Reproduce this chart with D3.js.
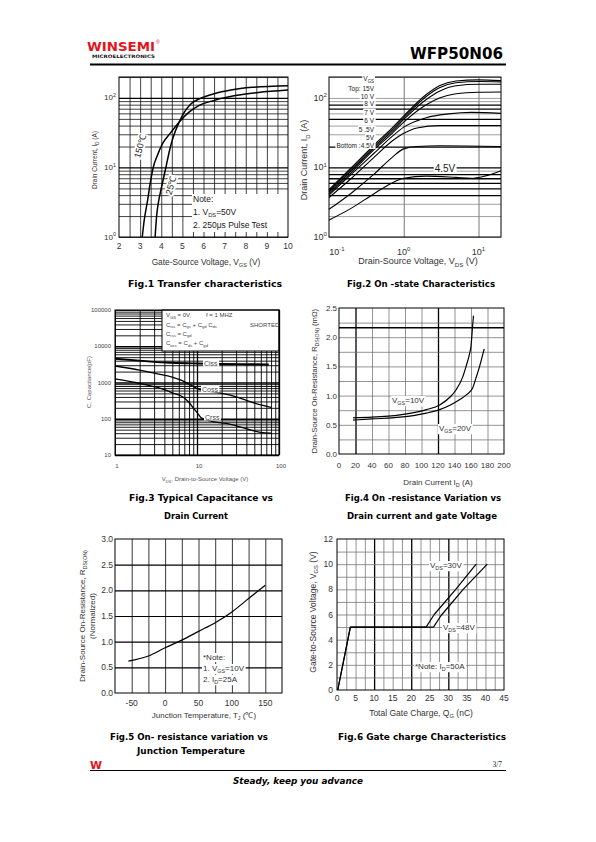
<!DOCTYPE html>
<html>
<head>
<meta charset="utf-8">
<script src="https://cdn.jsdelivr.net/npm/d3@7/dist/d3.min.js"></script>
<style>
html,body{margin:0;padding:0;background:#fff;}
svg{display:block;}
</style>
</head>
<body>
<script>
// ================= DATA =================
// Fig.1 Transfer characteristics : [VGS (V), ID (A)]
const fig1XTicks = [2, 3, 4, 5, 6, 7, 8, 9, 10];
const fig1YTicks = [1, 10, 100];
const fig1CurveLabels = ["150℃", "25℃"];
const fig1T150 = [[3.1,1],[3.2,1.8],[3.35,3.3],[3.48,6],[3.62,10],[3.82,15],[4.06,22],[4.46,32],[4.85,45],[5.3,62],[5.8,78],[6.5,92],[7.5,108],[8.6,120],[10,130]];
const fig1T25 = [[3.71,1],[3.78,2],[3.87,3.2],[4.0,5],[4.22,10],[4.4,18],[4.56,27],[4.85,45],[5.1,63],[5.4,82],[5.9,100],[6.5,115],[7.3,130],[8.3,142],[10,150]];
const fig1Note = ["Note:", "1. V_{DS}=50V", "2. 250μs Pulse Test"];

// Fig.2 On-state characteristics : [VDS (V), ID (A)]
const fig2XTicks = [0.1, 1, 10];
const fig2YTicks = [1, 10, 100];
const fig2Legend = ["Top:   15V", "10 V", "8 V", "7 V", "6 V", "5 .5V", "5V", "Bottom :4.5V"];
const fig2Vgs15 = [[0.1,4.8],[0.2,10],[0.4,21],[0.7,37],[1,55],[2,112],[3,150],[5,175],[10,182],[20,178]];
const fig2Vgs10 = [[0.1,4.6],[0.2,9.5],[0.4,20],[0.7,35],[1,52],[2,105],[3,140],[5,165],[10,172],[20,170]];
const fig2Vgs8  = [[0.1,4.4],[0.2,9],[0.4,19],[0.7,33],[1,49],[2,95],[3,125],[5,150],[10,157],[20,157]];
const fig2Vgs7  = [[0.1,4.2],[0.2,8.5],[0.4,18],[0.7,31],[1,45],[2,80],[3,100],[5,115],[10,121],[20,122]];
const fig2Vgs6  = [[0.1,4.0],[0.2,8],[0.4,16],[0.7,28],[1,38],[2,52],[4,59],[8,62],[20,60]];
const fig2Vgs55 = [[0.1,3.7],[0.2,7],[0.4,14],[0.7,24],[1,31],[1.5,37],[3,40],[20,40]];
const fig2Vgs5  = [[0.1,2.5],[0.2,4.3],[0.4,8],[0.7,14],[1,18.5],[1.5,20],[3,20.5],[20,20]];
const fig2Vgs45 = [[0.1,1.75],[0.2,2.6],[0.4,4.2],[0.7,6],[1,7],[2,7.5],[5,7.2],[8,7],[12,7.5],[20,9]];
const fig2CurveLabel = "4.5V";

// Fig.3 Capacitance : [VDS (V), C (pF)]
const fig3XTicks = [1, 10, 100];
const fig3YTicks = [10, 100, 1000, 10000, 100000];
const fig3Ciss = [[1,4500],[2,4000],[3,3700],[5,3500],[10,3350],[20,3250],[40,3200],[75,3150]];
const fig3Coss = [[1,2850],[2,2200],[3.2,1750],[5,1400],[6.5,1150],[8,900],[10.4,660],[15,560],[21,490],[30,400],[40,320],[60,240],[80,205]];
const fig3Crss = [[1,1260],[2,950],[3.2,740],[5,520],[6.8,390],[8,280],[9,200],[10,150],[11.4,104],[15,85],[25,71],[35,58],[48,47],[60,42],[80,40]];
const fig3CurveLabels = ["Ciss", "Coss", "Crss"];

// Fig.4 On-resistance vs drain current : [ID (A), RDS(on) (mΩ)]
const fig4XTicks = [0, 20, 40, 60, 80, 100, 120, 140, 160, 180, 200];
const fig4YTicks = [0, 0.5, 1.0, 1.5, 2.0, 2.5];
const fig4Vgs10 = [[17,0.62],[40,0.63],[74,0.67],[106,0.76],[122,0.84],[135,0.98],[142,1.1],[150,1.32],[154,1.5],[158,1.7],[160,1.85],[162,2.2],[163,2.37]];
const fig4Vgs20 = [[17,0.58],[40,0.6],[74,0.63],[106,0.7],[122,0.76],[135,0.84],[146,0.93],[155,1.02],[162,1.13],[166,1.3],[170,1.48],[176,1.8]];
const fig4CurveLabels = ["V_{GS}=10V", "V_{GS}=20V"];

// Fig.5 Normalized on-resistance vs TJ : [TJ (℃), RDS(on) norm.]
const fig5XTicks = [-50, 0, 50, 100, 150];
const fig5YTicks = [0, 0.5, 1.0, 1.5, 2.0, 2.5, 3.0];
const fig5Rds = [[-55,0.62],[-25,0.72],[0,0.88],[25,1.03],[50,1.2],[75,1.37],[100,1.58],[125,1.84],[150,2.1]];
const fig5Note = ["*Note:", "1. V_{GS}=10V", "2. I_{D}=25A"];

// Fig.6 Gate charge : [QG (nC), VGS (V)]
const fig6XTicks = [0, 5, 10, 15, 20, 25, 30, 35, 40, 45];
const fig6YTicks = [0, 2, 4, 6, 8, 10, 12];
const fig6Vds30 = [[0.2,0],[3.6,5],[24,5],[26.2,6],[32,8],[37.5,10]];
const fig6Vds48 = [[0.2,0],[3.6,5],[26,5],[28,5.9],[34,8],[40.5,10]];
const fig6Labels = ["V_{DS}=30V", "V_{DS}=48V", "*Note: I_{D}=50A"];

// ================= DRAWING =================
const SANS = "'Liberation Sans', Arial, sans-serif";
const BOLD = "'DejaVu Sans', 'Liberation Sans', sans-serif";
const svg = d3.select("body").append("svg").attr("width", 596).attr("height", 842)
  .style("font-family", SANS);
svg.append("rect").attr("width", 596).attr("height", 842).attr("fill", "#fff");

function rich(t, str, fs) {
  const parts = str.split(/(_\{[^}]*\}|\^\{[^}]*\})/).filter(s => s.length);
  let cur = 0;
  parts.forEach(p => {
    let kind = "", s = p;
    if (p.startsWith("_{")) { kind = "sub"; s = p.slice(2, -1); }
    else if (p.startsWith("^{")) { kind = "sup"; s = p.slice(2, -1); }
    const off = kind === "sub" ? fs * 0.28 : kind === "sup" ? -fs * 0.42 : 0;
    const ts = t.append("tspan").text(s);
    if (off - cur !== 0) ts.attr("dy", off - cur);
    if (kind) ts.attr("font-size", fs * 0.68);
    cur = off;
  });
  return t;
}
function label(g, x, y, str, fs, o = {}) {
  const t = g.append("text").attr("x", x).attr("y", y).attr("font-size", fs)
    .attr("fill", o.fill || "#1a1a1a");
  if (o.anchor) t.attr("text-anchor", o.anchor);
  if (o.family) t.style("font-family", o.family);
  if (o.weight) t.attr("font-weight", o.weight);
  if (o.italic) t.attr("font-style", "italic");
  const tr = o.rotate ? `rotate(${o.rotate},${x},${y})` : null;
  if (tr) t.attr("transform", tr);
  rich(t, str, fs);
  if (o.len) t.attr("textLength", o.len).attr("lengthAdjust", "spacingAndGlyphs");
  if (o.bg) {
    const b = t.node().getBBox();
    const r = g.insert("rect", () => t.node()).attr("x", b.x - 1).attr("y", b.y)
      .attr("width", b.width + 2).attr("height", b.height).attr("fill", "#fff");
    if (tr) r.attr("transform", tr);
  }
  return t;
}
function logMinor(lo, hi) {
  const out = [];
  for (let e = Math.floor(Math.log10(lo)); e <= Math.ceil(Math.log10(hi)); e++)
    for (let m = 1; m < 10; m++) {
      const v = +(m * Math.pow(10, e)).toPrecision(6);
      if (v >= lo * 0.999 && v <= hi * 1.001) out.push(v);
    }
  return out;
}
function grid(g, x, y, xVals, yVals, style) {
  const [yb, yt] = y.range(), [xl, xr] = x.range();
  const gv = g.append("g").attr("transform", `translate(0,${yb})`)
    .call(d3.axisBottom(x).tickValues(xVals).tickSize(-(yb - yt)).tickFormat(""));
  gv.select(".domain").remove();
  gv.selectAll(".tick line").each(function (d) {
    const [c, w] = style("x", d); d3.select(this).attr("stroke", c).attr("stroke-width", w);
  });
  const gh = g.append("g").attr("transform", `translate(${xl},0)`)
    .call(d3.axisLeft(y).tickValues(yVals).tickSize(-(xr - xl)).tickFormat(""));
  gh.select(".domain").remove();
  gh.selectAll(".tick line").each(function (d) {
    const [c, w] = style("y", d); d3.select(this).attr("stroke", c).attr("stroke-width", w);
  });
}
function frame(g, x, y, w = 1) {
  const [yb, yt] = y.range(), [xl, xr] = x.range();
  g.append("rect").attr("x", xl).attr("y", yt).attr("width", xr - xl).attr("height", yb - yt)
    .attr("fill", "none").attr("stroke", "#000").attr("stroke-width", w);
}
function curve(g, x, y, data, w = 1.4, c = d3.curveMonotoneX) {
  g.append("path").datum(data).attr("fill", "none").attr("stroke", "#000")
    .attr("stroke-width", w).attr("stroke-linejoin", "round")
    .attr("d", d3.line().x(d => x(d[0])).y(d => y(d[1])).curve(c));
}
const expLabel = v => "10^{" + Math.round(Math.log10(v)) + "}";

// ---------- Header ----------
label(svg, 87, 50.5, "WINSEMI", 12.5, { family: BOLD, weight: "bold", fill: "#e3141c", len: 68 });
label(svg, 156, 44, "®", 5, { fill: "#e3141c" });
label(svg, 92, 57.8, "MICROELECTRONICS", 4.6, { family: BOLD, weight: "bold", fill: "#111", len: 63 });
label(svg, 410, 58.5, "WFP50N06", 16, { family: BOLD, weight: "bold", fill: "#000", len: 93 });
svg.append("line").attr("x1", 90).attr("x2", 506).attr("y1", 64.5).attr("y2", 64.5)
  .attr("stroke", "#000").attr("stroke-width", 2);

// ---------- Fig.1 ----------
{
  const g = svg.append("g");
  const x = d3.scaleLinear().domain([2, 10]).range([119, 288]);
  const y = d3.scaleLog().domain([1, 200]).range([237, 77]);
  grid(g, x, y, d3.range(2.5, 10, 0.5), logMinor(1, 200),
    (a, d) => a === "y" && [10, 100].includes(d) ? ["#000", 1.3] : ["#111", 0.8]);
  g.append("rect").attr("x", 192).attr("y", 194).attr("width", 96).attr("height", 38).attr("fill", "#fff");
  curve(g, x, y, fig1T150, 1.5);
  curve(g, x, y, fig1T25, 1.5);
  frame(g, x, y);
  label(g, 143, 147, fig1CurveLabels[0], 9, { rotate: -75, anchor: "middle", bg: true });
  label(g, 174, 186, fig1CurveLabels[1], 9, { rotate: -75, anchor: "middle", bg: true });
  fig1Note.forEach((s, i) => label(g, 193, 202 + i * 13, s, 8.5));
  fig1XTicks.forEach(d => label(g, x(d), 248.5, String(d), 8.5, { anchor: "middle", fill: "#333" }));
  fig1YTicks.forEach(d => label(g, 116, y(d) + 2.5, expLabel(d), 8, { anchor: "end", fill: "#333" }));
  label(g, 206, 265, "Gate-Source Voltage, V_{GS} (V)", 8.3, { anchor: "middle", fill: "#333" });
  label(g, 97, 160, "Drain Current, I_{D} (A)", 6.5, { anchor: "middle", rotate: -90, fill: "#333" });
}

// ---------- Fig.2 ----------
{
  const g = svg.append("g");
  const x = d3.scaleLog().domain([0.1, 20]).range([329, 501]);
  const y = d3.scaleLog().domain([1, 200]).range([237, 77]);
  const thickY = [4, 5, 6, 7, 8, 10, 20, 50, 70, 80];
  grid(g, x, y, [1, 10], logMinor(1, 200),
    (a, d) => a === "x" ? ["#777", 1] : thickY.includes(d) ? ["#000", 1.3] : ["#888", 0.8]);
  [fig2Vgs15, fig2Vgs10, fig2Vgs8, fig2Vgs7, fig2Vgs6, fig2Vgs55, fig2Vgs5, fig2Vgs45]
    .forEach(s => curve(g, x, y, s, 1.1));
  frame(g, x, y);
  label(g, 374, 81, "V_{GS}", 6.5, { anchor: "end", bg: true });
  const base = [90.5, 98.5, 106, 114.5, 123, 131.5, 139.5, 148];
  fig2Legend.forEach((s, i) => label(g, 374, base[i], s, 6.5, { anchor: "end", bg: true }));
  label(g, 445, 172, fig2CurveLabel, 10, { anchor: "middle", bg: true });
  fig2XTicks.forEach((d, i) => label(g, x(d) + (i === 0 ? 8 : 0), 255, expLabel(d), 9, { anchor: "middle", fill: "#333" }));
  fig2YTicks.forEach(d => label(g, 327, y(d) + 3, expLabel(d), 9, { anchor: "end", fill: "#333" }));
  label(g, 418, 264, "Drain-Source Voltage, V_{DS} (V)", 9, { anchor: "middle", fill: "#333" });
  label(g, 307, 160, "Drain Current, I_{D} (A)", 9, { anchor: "middle", rotate: -90, fill: "#333" });
}

// ---------- Fig.3 ----------
{
  const g = svg.append("g");
  const x = d3.scaleLog().domain([1, 100]).range([115, 279]);
  const y = d3.scaleLog().domain([10, 100000]).range([455, 310]);
  grid(g, x, y, logMinor(1, 100), logMinor(10, 100000),
    (a, d) => [10, 100, 1000, 10000].includes(d) ? ["#000", 1.3] : ["#000", 0.9]);
  g.append("rect").attr("x", 162).attr("y", 310).attr("width", 117).attr("height", 41)
    .attr("fill", "#fff").attr("stroke", "#000").attr("stroke-width", 1);
  curve(g, x, y, fig3Ciss, 1.9);
  curve(g, x, y, fig3Coss, 1.3);
  curve(g, x, y, fig3Crss, 1.3);
  frame(g, x, y);
  label(g, 204, 365.5, fig3CurveLabels[0], 7, { bg: true, fill: "#444" });
  label(g, 202, 391.5, fig3CurveLabels[1], 7, { bg: true, fill: "#444" });
  label(g, 205, 419.5, fig3CurveLabels[2], 7, { bg: true, fill: "#444" });
  label(g, 166, 317, "V_{GS}  = 0V,", 6, { fill: "#444" });
  label(g, 206, 317, "f = 1 MHZ", 6, { fill: "#444" });
  label(g, 166, 326.5, "C_{iss}   = C_{gs} + C_{gd}   C_{ds}", 6, { fill: "#444" });
  label(g, 250, 326.5, "SHORTED", 6, { fill: "#444" });
  label(g, 166, 335.5, "C_{rss}   = C_{gd}", 6, { fill: "#444" });
  label(g, 166, 345, "C_{oss}   = C_{ds} + C_{gd}", 6, { fill: "#444" });
  fig3XTicks.forEach(d => label(g, x(d) + 2, 468, String(d), 6, { anchor: "middle", fill: "#444" }));
  fig3YTicks.forEach(d => label(g, 111, y(d) + 2, String(d), 6, { anchor: "end", fill: "#444" }));
  label(g, 205, 481, "V_{DS}, Drain-to-Source Voltage (V)", 6, { anchor: "middle", fill: "#555" });
  label(g, 91, 382, "C, Capacitance(pF)", 6, { anchor: "middle", rotate: -90, fill: "#555" });
}

// ---------- Fig.4 ----------
{
  const g = svg.append("g");
  const x = d3.scaleLinear().domain([0, 200]).range([339, 504]);
  const y = d3.scaleLinear().domain([0, 2.5]).range([454, 308]);
  grid(g, x, y, d3.range(20, 200, 20), d3.range(0.25, 2.5, 0.25).concat([2.17]),
    (a, d) => (a === "x" && (d === 20 || d === 120)) || (a === "y" && d === 2.17) ? ["#000", 1.3] : ["#666", 0.7]);
  curve(g, x, y, fig4Vgs10, 1.2);
  curve(g, x, y, fig4Vgs20, 1.2);
  frame(g, x, y);
  label(g, 392, 403, fig4CurveLabels[0], 8, { bg: true, fill: "#333" });
  label(g, 439, 431, fig4CurveLabels[1], 8, { bg: true, fill: "#333" });
  fig4XTicks.forEach(d => label(g, x(d), 468, String(d), 8, { anchor: "middle", fill: "#333" }));
  fig4YTicks.forEach(d => label(g, 337, y(d) + 3, d.toFixed(1), 8, { anchor: "end", fill: "#333" }));
  label(g, 438, 485, "Drain Current I_{D} (A)", 8, { anchor: "middle", fill: "#333" });
  label(g, 317, 381, "Drain-Source On-Resistance, R_{DS(ON)} (mΩ)", 7.6, { anchor: "middle", rotate: -90, fill: "#333" });
}

// ---------- Fig.5 ----------
{
  const g = svg.append("g");
  const x = d3.scaleLinear().domain([-75, 175]).range([115, 282]);
  const y = d3.scaleLinear().domain([0, 3]).range([693, 539]);
  grid(g, x, y, d3.range(-50, 175, 25), d3.range(0.5, 3, 0.5),
    (a, d) => a === "y" ? ["#000", 1.1] : ["#222", 0.9]);
  curve(g, x, y, fig5Rds, 1.2);
  frame(g, x, y);
  fig5Note.forEach((s, i) => label(g, 203, 660 + i * 11, s, 8, { bg: true, fill: "#333" }));
  fig5XTicks.forEach(d => label(g, x(d), 706, String(d), 8.5, { anchor: "middle", fill: "#333" }));
  fig5YTicks.forEach(d => label(g, 113, y(d) + 3, d.toFixed(1), 8.5, { anchor: "end", fill: "#333" }));
  label(g, 204, 718, "Junction Temperature, T_{J} (℃)", 8, { anchor: "middle", fill: "#333" });
  label(g, 85, 616, "Drain-Source On-Resistance, R_{DS(ON)}", 8, { anchor: "middle", rotate: -90, fill: "#333" });
  label(g, 95, 616, "(Normalized)", 8, { anchor: "middle", rotate: -90, fill: "#333" });
}

// ---------- Fig.6 ----------
{
  const g = svg.append("g");
  const x = d3.scaleLinear().domain([0, 45]).range([337, 504]);
  const y = d3.scaleLinear().domain([0, 12]).range([690, 539]);
  grid(g, x, y, d3.range(2.5, 45, 2.5), d3.range(1, 12, 1),
    (a, d) => a === "x" && [10, 20, 30].includes(d) ? ["#000", 1.3] : ["#777", 0.8]);
  curve(g, x, y, fig6Vds30, 1.2, d3.curveLinear);
  curve(g, x, y, fig6Vds48, 1.2, d3.curveLinear);
  frame(g, x, y);
  label(g, 430, 568, fig6Labels[0], 8, { bg: true, fill: "#333" });
  label(g, 443, 630, fig6Labels[1], 8, { bg: true, fill: "#333" });
  label(g, 415, 669, fig6Labels[2], 8, { bg: true, fill: "#333" });
  fig6XTicks.forEach(d => label(g, x(d), 701, String(d), 8.5, { anchor: "middle", fill: "#333" }));
  fig6YTicks.forEach(d => label(g, 333, y(d) + 3, String(d), 8.5, { anchor: "end", fill: "#333" }));
  label(g, 421, 716, "Total Gate Charge, Q_{G} (nC)", 8.5, { anchor: "middle", fill: "#333" });
  label(g, 316, 612, "Gate-to-Source Voltage, V_{GS} (V)", 8.5, { anchor: "middle", rotate: -90, fill: "#333" });
}

// ---------- Captions ----------
const cap = (x, y, s, len) => label(svg, x, y, s, 8, { family: BOLD, weight: "bold", fill: "#000", len });
cap(128, 287, "Fig.1 Transfer characteristics", 154);
cap(347, 287, "Fig.2 On -state Characteristics", 148);
cap(129, 501, "Fig.3 Typical Capacitance vs", 144);
cap(164, 519, "Drain Current", 64);
cap(345, 501, "Fig.4 On -resistance Variation vs", 156);
cap(347, 519, "Drain current and gate Voltage", 150);
cap(110, 740, "Fig.5 On- resistance variation vs", 158);
cap(137, 754, "Junction Temperature", 108);
cap(338, 740, "Fig.6 Gate charge Characteristics", 168);

// ---------- Footer ----------
label(svg, 90, 768.5, "W", 10, { family: BOLD, weight: "bold", fill: "#e3141c", len: 12 });
label(svg, 502, 767, "3/7", 7.5, { anchor: "end", family: "'Liberation Serif', serif", fill: "#222" });
svg.append("line").attr("x1", 90).attr("x2", 506).attr("y1", 770.5).attr("y2", 770.5)
  .attr("stroke", "#000").attr("stroke-width", 1.2);
label(svg, 233, 783.5, "Steady, keep you advance", 8.5, { family: BOLD, weight: "bold", italic: true, fill: "#000", len: 130 });
</script>
</body>
</html>
